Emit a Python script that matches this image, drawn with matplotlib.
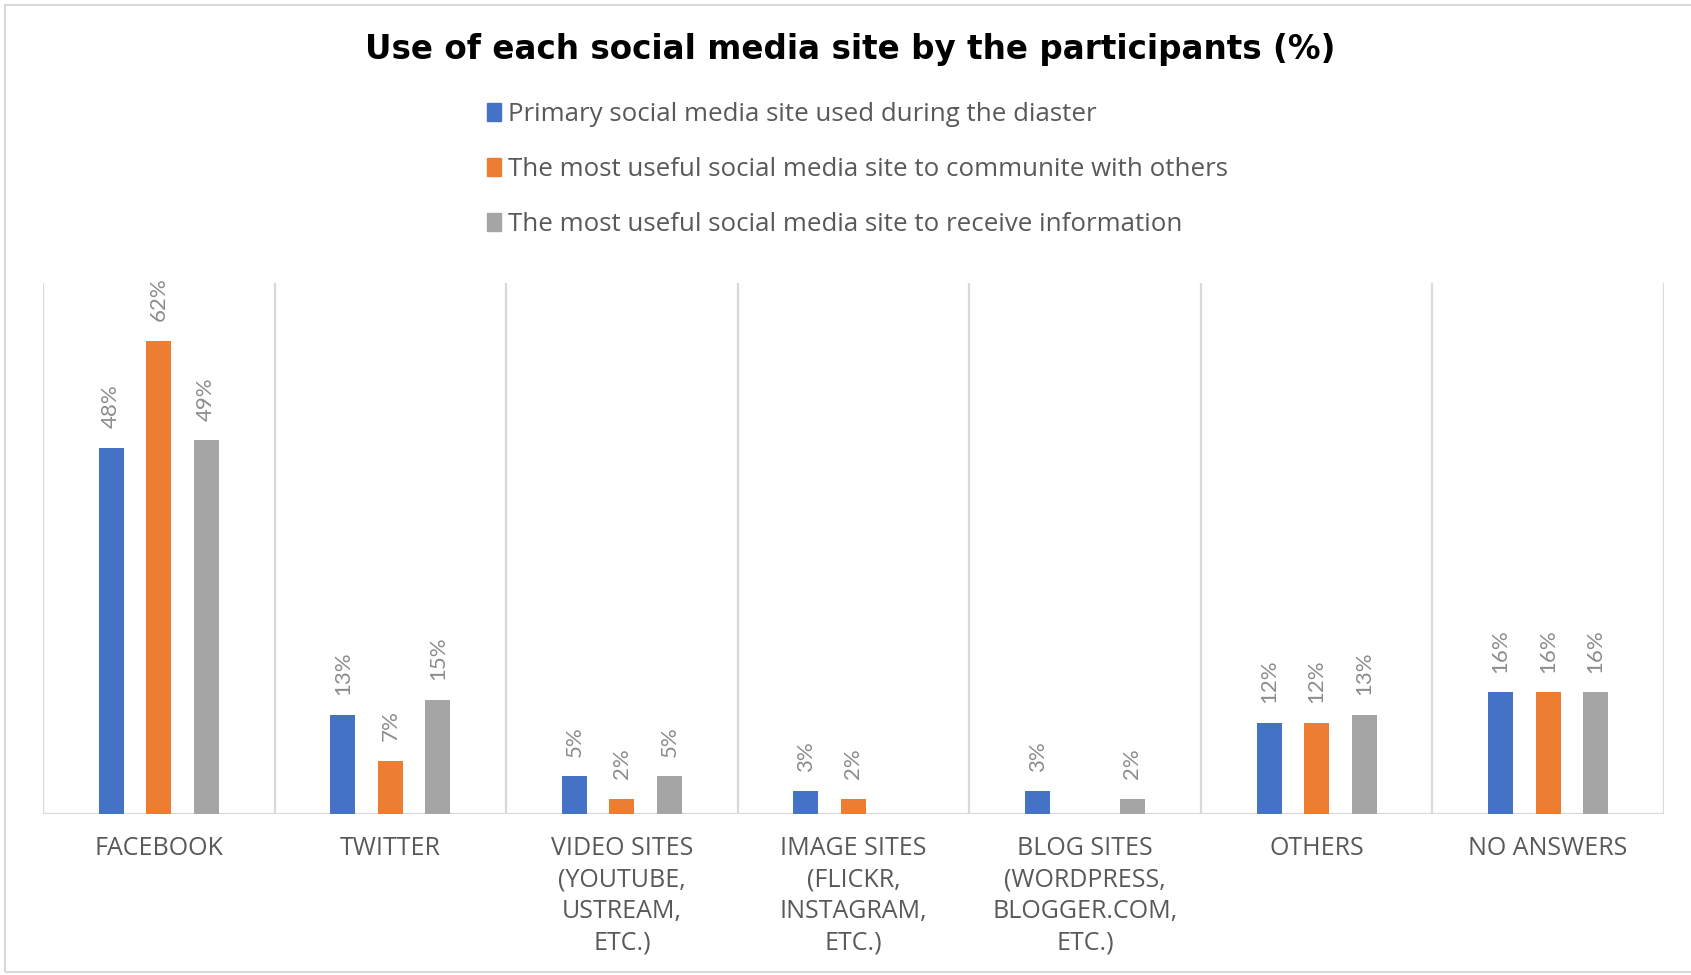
import matplotlib.pyplot as plt
import matplotlib.patches as mpatches
import numpy as np

CATEGORIES = [
    "FACEBOOK",
    "TWITTER",
    "VIDEO SITES\n(YOUTUBE,\nUSTREAM,\nETC.)",
    "IMAGE SITES\n(FLICKR,\nINSTAGRAM,\nETC.)",
    "BLOG SITES\n(WORDPRESS,\nBLOGGER.COM,\nETC.)",
    "OTHERS",
    "NO ANSWERS",
]

SERIES = [
    "Primary social media site used during the diaster",
    "The most useful social media site to communite with others",
    "The most useful social media site to receive information",
]

PRIMARY = [48, 13, 5, 3, 3, 12, 16]
COMMUNICATE = [62, 7, 2, 2, 0, 12, 16]
RECEIVE = [49, 15, 5, 0, 2, 13, 16]

COLORS = ["#4472C4", "#ED7D31", "#A5A5A5"]
OFFSETS = [-0.205, 0.0, 0.205]
BAR_WIDTH = 0.108

TEXT_GRAY = "#595959"
LABEL_GRAY = "#8C8C8C"
GRID_GRAY = "#D9D9D9"

plt.rcParams["font.family"] = ["Lato", "DejaVu Sans"]

fig = plt.figure(figsize=(16.91, 9.75), dpi=100)
ax = fig.add_axes([0.0254, 0.165, 0.9586, 0.545])

xs = np.arange(len(CATEGORIES))
for values, offset, color in zip([PRIMARY, COMMUNICATE, RECEIVE], OFFSETS, COLORS):
    bars = ax.bar(xs + offset, values, width=BAR_WIDTH, color=color, zorder=3)
    labels = [f"{v}%" if v else "" for v in values]
    ax.bar_label(bars, labels=labels, rotation=90, padding=14,
                 color=LABEL_GRAY, fontsize=16)

# category separators and baseline
for b in np.arange(len(CATEGORIES) + 1) - 0.5:
    ax.axvline(b, color=GRID_GRAY, lw=1.6, zorder=1)
ax.axhline(0, color=GRID_GRAY, lw=1.6, zorder=2)

ax.set_xlim(-0.5, len(CATEGORIES) - 0.5)
ax.set_ylim(0, 69.6)
ax.set_yticks([])
ax.set_xticks(xs)
ax.set_xticklabels(CATEGORIES, fontsize=18, color=TEXT_GRAY, linespacing=1.33,
                   va="top", family=["Open Sans", "DejaVu Sans"])
ax.tick_params(axis="x", length=0, pad=16)
for spine in ax.spines.values():
    spine.set_visible(False)

fig.text(0.503, 0.949, "Use of each social media site by the participants (%)",
         ha="center", va="center", fontsize=23.5, fontweight="bold",
         family=["DejaVu Sans"], color="black")

handles = [mpatches.Patch(color=c, label=l) for c, l in zip(COLORS, SERIES)]
fig.legend(handles=handles, loc="center left", bbox_to_anchor=(0.288, 0.826),
           frameon=False, labelcolor=TEXT_GRAY,
           prop={"family": ["Open Sans", "DejaVu Sans"], "size": 18.6},
           handlelength=0.55, handleheight=0.7, handletextpad=0.25,
           labelspacing=1.15, borderpad=0, borderaxespad=0)

# light frame around the chart area
fig.patches.append(mpatches.Rectangle((5 / 1691, 3 / 975), 1.2, 967 / 975,
                                      transform=fig.transFigure, fill=False,
                                      edgecolor=GRID_GRAY, lw=1.5, clip_on=False))

fig.savefig("out.png", dpi=100)
